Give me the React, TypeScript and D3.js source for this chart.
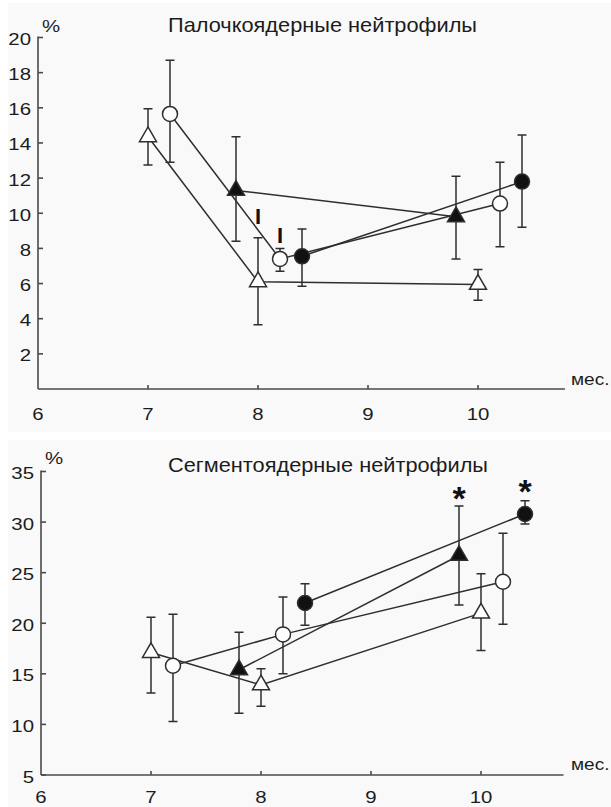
import React from 'react';
import * as d3 from 'd3';

type Pt = { m: number; v: number; lo: number; hi: number };

// Палочкоядерные нейтрофилы (%), срок в месяцах
const bandOpenTriangle: Pt[] = [
  { m: 7, v: 14.35, lo: 12.75, hi: 15.95 },
  { m: 8, v: 6.1, lo: 3.65, hi: 8.6 },
  { m: 10, v: 5.95, lo: 5.05, hi: 6.8 },
];
const bandOpenCircle: Pt[] = [
  { m: 7.2, v: 15.65, lo: 12.9, hi: 18.7 },
  { m: 8.2, v: 7.4, lo: 6.7, hi: 8.0 },
  { m: 10.2, v: 10.55, lo: 8.1, hi: 12.9 },
];
const bandFilledTriangle: Pt[] = [
  { m: 7.8, v: 11.3, lo: 8.4, hi: 14.35 },
  { m: 9.8, v: 9.8, lo: 7.4, hi: 12.1 },
];
const bandFilledCircle: Pt[] = [
  { m: 8.4, v: 7.55, lo: 5.85, hi: 9.1 },
  { m: 10.4, v: 11.8, lo: 9.2, hi: 14.45 },
];
const bandTicksY = [2, 4, 6, 8, 10, 12, 14, 16, 18, 20];
const bandMarks = [
  { m: 8.0, v: 9.85, label: 'I' },
  { m: 8.2, v: 8.75, label: 'I' },
];

// Сегментоядерные нейтрофилы (%)
const segOpenTriangle: Pt[] = [
  { m: 7, v: 17.1, lo: 13.1, hi: 20.6 },
  { m: 8, v: 13.9, lo: 11.8, hi: 15.5 },
  { m: 10, v: 21.0, lo: 17.3, hi: 24.9 },
];
const segOpenCircle: Pt[] = [
  { m: 7.2, v: 15.8, lo: 10.3, hi: 20.9 },
  { m: 8.2, v: 18.9, lo: 15.0, hi: 22.6 },
  { m: 10.2, v: 24.1, lo: 19.9, hi: 28.9 },
];
const segFilledTriangle: Pt[] = [
  { m: 7.8, v: 15.4, lo: 11.1, hi: 19.1 },
  { m: 9.8, v: 26.7, lo: 21.8, hi: 31.6 },
];
const segFilledCircle: Pt[] = [
  { m: 8.4, v: 22.0, lo: 19.8, hi: 23.9 },
  { m: 10.4, v: 30.8, lo: 29.8, hi: 32.1 },
];
const segTicksY = [5, 10, 15, 20, 25, 30, 35];
const segMarks = [
  { m: 9.8, v: 33.1, label: '*' },
  { m: 10.4, v: 33.8, label: '*' },
];

const monthTicks = [6, 7, 8, 9, 10];

const INK = '#2e2e2e';
const FONT = '"Liberation Sans", Arial, sans-serif';

type Series = { data: Pt[]; shape: 'triangle' | 'circle'; filled: boolean };

const Stretch = ({ x, y, anchor = 'start', size = 17, sx = 1.2, children }: any) => (
  <text
    transform={`translate(${x},${y}) scale(${sx},1)`}
    textAnchor={anchor}
    fontSize={size}
    fill="#1c1c1c"
  >
    {children}
  </text>
);

const Panel = ({ cfg }: any) => {
  const x = d3.scaleLinear().domain([6, 10]).range([cfg.x0, cfg.x0 + 440]);
  const y = d3.scaleLinear().domain(cfg.yDomain).range(cfg.yRange);
  const line = d3.line<Pt>().x(d => x(d.m)).y(d => y(d.v));
  const tri = d3.symbol().type(d3.symbolTriangle).size(125)();
  const axisY = y(cfg.yDomain[0]);
  const series: Series[] = cfg.series;

  return (
    <g fontFamily={FONT}>
      <rect x={8} y={cfg.bg[0]} width={603} height={cfg.bg[1] - cfg.bg[0]} fill="#f9f9f9" />
      <text x={cfg.titleX} y={cfg.titleY} fontSize={21} fill="#1c1c1c" textLength={cfg.titleW} lengthAdjust="spacingAndGlyphs">
        {cfg.title}
      </text>
      <Stretch x={cfg.x0 + 4} y={cfg.pctY}>%</Stretch>
      <Stretch x={571} y={cfg.mesY} sx={1.12}>мес.</Stretch>

      {/* axes */}
      <g stroke="#4a4a4a" strokeWidth={1.6} fill="none">
        <path d={`M${x(6)},${axisY}H${x(cfg.xEnd)}`} />
        <path d={`M${x(6)},${axisY}V${y(cfg.yDomain[1]) - 1}`} />
        {monthTicks.slice(1).map(t => (
          <path key={t} d={`M${x(t)},${axisY}v-4`} />
        ))}
        {cfg.ticksY.map((t: number) => (
          <path key={t} d={`M${x(6)},${y(t)}h5`} />
        ))}
      </g>
      {cfg.ticksY.map((t: number) => (
        <Stretch key={t} x={x(6) - 7} y={y(t) + 7.5} anchor="end">{t}</Stretch>
      ))}
      {monthTicks.map(t => (
        <Stretch key={t} x={x(t)} y={axisY + cfg.xLabelGap} anchor="middle">{t}</Stretch>
      ))}

      {/* connecting lines */}
      {series.map((s, i) => (
        <path key={i} d={line(s.data) || ''} fill="none" stroke={INK} strokeWidth={1.5} />
      ))}

      {/* error bars */}
      <g stroke={INK} strokeWidth={1.5}>
        {series.flatMap((s, i) =>
          s.data.map((d, j) => (
            <path
              key={`${i}-${j}`}
              d={`M${x(d.m)},${y(d.lo)}V${y(d.hi)}M${x(d.m) - 4.5},${y(d.hi)}h9M${x(d.m) - 4.5},${y(d.lo)}h9`}
            />
          ))
        )}
      </g>

      {/* markers */}
      {series.flatMap((s, i) =>
        s.data.map((d, j) =>
          s.shape === 'circle' ? (
            <circle
              key={`${i}-${j}`}
              cx={x(d.m)}
              cy={y(d.v)}
              r={7.5}
              fill={s.filled ? '#111' : '#fff'}
              stroke={INK}
              strokeWidth={1.5}
            />
          ) : (
            <path
              key={`${i}-${j}`}
              transform={`translate(${x(d.m)},${y(d.v)})`}
              d={tri || ''}
              fill={s.filled ? '#111' : '#fff'}
              stroke={INK}
              strokeWidth={1.5}
            />
          )
        )
      )}

      {cfg.marks.map((mk: any, i: number) => (
        <text
          key={i}
          x={x(mk.m)}
          y={y(mk.v) + cfg.markShift}
          textAnchor="middle"
          fontSize={cfg.markSize}
          fontWeight="bold"
          fill="#111"
        >
          {mk.label}
        </text>
      ))}
    </g>
  );
};

const bandCfg = {
  title: 'Палочкоядерные нейтрофилы',
  titleX: 168,
  titleY: 31.5,
  titleW: 309,
  pctY: 31.5,
  mesY: 385,
  bg: [3, 432],
  x0: 38,
  xEnd: 10.79,
  xLabelGap: 30.5,
  yDomain: [0, 20],
  yRange: [389, 37.5],
  ticksY: bandTicksY,
  marks: bandMarks,
  markSize: 22,
  markShift: 8,
  series: [
    { data: bandOpenTriangle, shape: 'triangle', filled: false },
    { data: bandOpenCircle, shape: 'circle', filled: false },
    { data: bandFilledTriangle, shape: 'triangle', filled: true },
    { data: bandFilledCircle, shape: 'circle', filled: true },
  ],
};

const segCfg = {
  title: 'Сегментоядерные нейтрофилы',
  titleX: 168,
  titleY: 471.5,
  titleW: 320,
  pctY: 464,
  mesY: 770,
  bg: [440, 807],
  x0: 41,
  xEnd: 10.75,
  xLabelGap: 28,
  yDomain: [5, 35],
  yRange: [775, 471.5],
  ticksY: segTicksY,
  marks: segMarks,
  markSize: 34,
  markShift: 19,
  series: [
    { data: segOpenTriangle, shape: 'triangle', filled: false },
    { data: segOpenCircle, shape: 'circle', filled: false },
    { data: segFilledTriangle, shape: 'triangle', filled: true },
    { data: segFilledCircle, shape: 'circle', filled: true },
  ],
};

export default function App() {
  return (
    <svg width={611} height={807} style={{ position: 'absolute', left: 0, top: 0, background: '#fff' }}>
      <Panel cfg={bandCfg} />
      <Panel cfg={segCfg} />
    </svg>
  );
}
